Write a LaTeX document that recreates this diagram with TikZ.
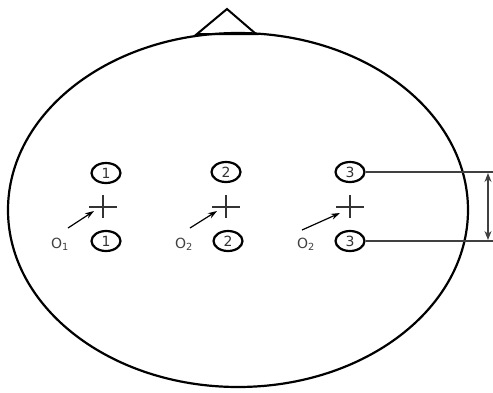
\documentclass[tikz,border=0pt]{standalone}
\usepackage{fontspec}
\setmainfont{DejaVu Sans}
\usetikzlibrary{shapes.geometric,arrows.meta,calc}
\begin{document}
\begin{tikzpicture}[x=1pt,y=-1pt,
  electrode/.style={ellipse,draw,line width=2.2pt,minimum width=29pt,minimum height=20pt,inner sep=0pt,font=\fontsize{14}{14}\selectfont,text=black!80},
  crossmark/.style={line width=1.3pt,black!80},
  pointer/.style={-{Stealth[length=9pt,width=6pt]},line width=1.2pt},
  olabel/.style={font=\fontsize{14}{14}\selectfont,text=black!75},
  guide/.style={line width=1.2pt,black!75}]
\useasboundingbox (0,0) rectangle (493,392);
% head
\draw[line width=2.2pt] (238,210) ellipse [x radius=230, y radius=177];
\draw[line width=2pt] (197,34) -- (227,9) -- (256,34) -- cycle;
% electrodes
\node[electrode] (a1) at (106,173) {1};
\node[electrode] (b1) at (106,241) {1};
\node[electrode] (a2) at (226,172) {2};
\node[electrode] (b2) at (228,241) {2};
\node[electrode] (a3) at (350,172) {3};
\node[electrode] (b3) at (350,241) {3};
% centres
\foreach \i/\cx in {1/103,2/226,3/350}{
  \coordinate (c\i) at (\cx,207);
  \draw[crossmark] ($(c\i)+(-14,0)$) -- ($(c\i)+(14,0)$);
  \draw[crossmark] ($(c\i)+(0,-12)$) -- ($(c\i)+(0,11)$);
}
% labels and pointers
\node[olabel] (o1) at (60,244) {O\textsubscript{1}};
\node[olabel] (o2) at (184,244) {O\textsubscript{2}};
\node[olabel] (o3) at (306,244) {O\textsubscript{2}};
\coordinate (t1) at (94,211);
\coordinate (t2) at (217,211);
\coordinate (t3) at (340,213);
\draw[pointer] (68,228) -- (t1);
\draw[pointer] (190,228) -- (t2);
\draw[pointer] (302,230) -- (t3);
% distance marker
\coordinate (e1) at (493,172);
\coordinate (e2) at (493,241);
\draw[guide] (a3.east) -- (e1);
\draw[guide] (b3.east) -- (e2);
\draw[guide,{Stealth[length=9pt,width=7pt]}-{Stealth[length=9pt,width=7pt]}] (488,173) -- (488,240);
\end{tikzpicture}
\end{document}
